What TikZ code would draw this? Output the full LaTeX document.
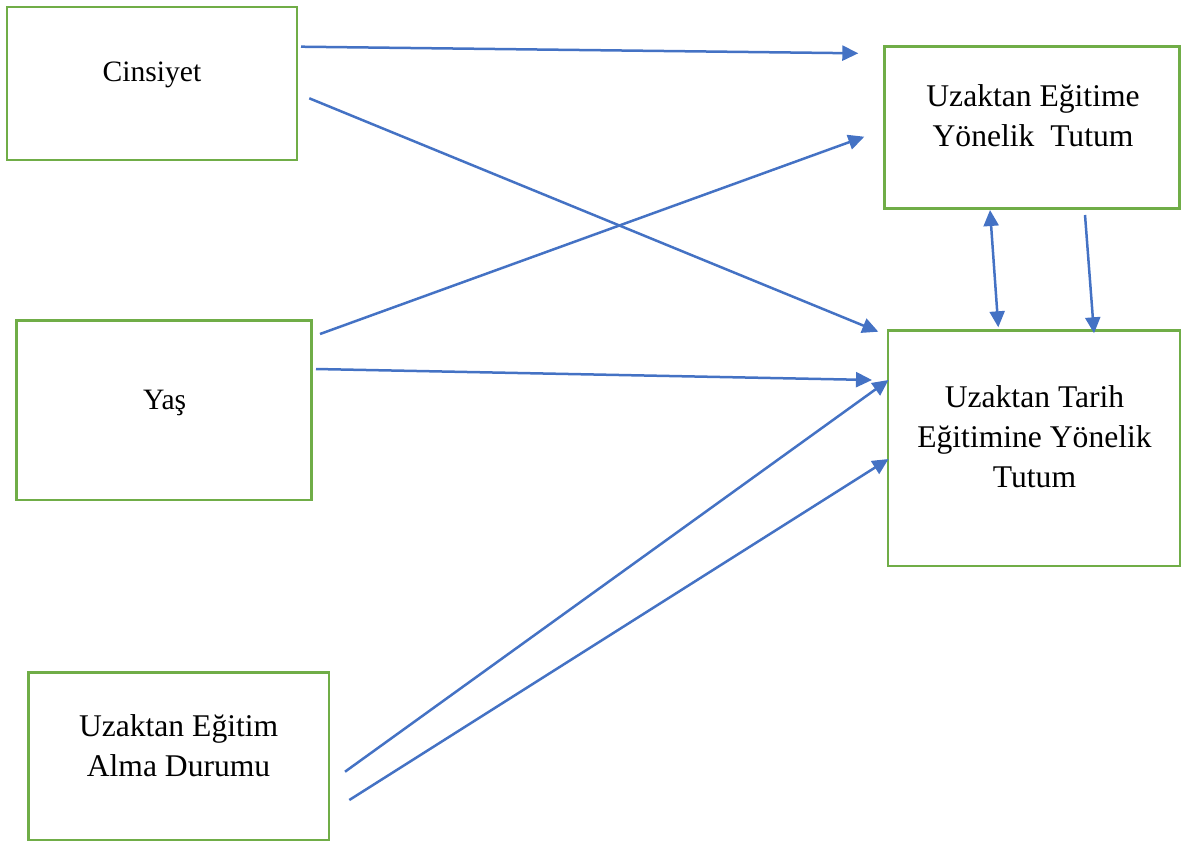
\documentclass[tikz,border=0pt]{standalone}
\usepackage{fontspec}
\setmainfont{Liberation Serif}
\usetikzlibrary{arrows.meta}
\definecolor{boxgreen}{HTML}{70AD47}
\definecolor{arrowblue}{HTML}{4472C4}
\begin{document}
\begin{tikzpicture}[x=0.5pt,y=-0.5pt,
  box/.style={draw=boxgreen,line width=1.35pt,fill=none,inner sep=0pt,outer sep=0pt},
  big/.style={align=center,inner sep=0pt,font=\fontsize{15.8}{19.9}\selectfont},
  small/.style={align=center,inner sep=0pt,font=\fontsize{14.8}{19}\selectfont},
  arr/.style={draw=arrowblue,line width=1.25pt,-{Triangle[length=8pt,width=7.5pt]}},
  darr/.style={draw=arrowblue,line width=1.25pt,{Triangle[length=8pt,width=7.5pt]}-{Triangle[length=8pt,width=7.5pt]}}]
\useasboundingbox (0,0) rectangle (1181,841);
% boxes
\node[box,minimum width=145pt,minimum height=76.5pt] (cb) at (152,83.5) {};
\node[box,minimum width=147.5pt,minimum height=89.75pt] (yb) at (164,410.3) {};
\node[box,minimum width=150.25pt,minimum height=83.75pt] (ub) at (178.7,756.2) {};
\node[box,minimum width=147.5pt,minimum height=80.8pt] (ab) at (1032.3,127.5) {};
\node[box,minimum width=146pt,minimum height=117.65pt] (tb) at (1034,448.3) {};
% texts
\node[small] (ct) at (152,74.9) {Cinsiyet};
\node[small] (yt) at (164.7,403.3) {Yaş};
\node[big] (ut) at (178.6,745.3) {Uzaktan Eğitim\\Alma Durumu};
\node[big] (at) at (1033,115.5) {Uzaktan Eğitime\\Yönelik~~Tutum};
\node[big] (tt) at (1034.5,436.6) {Uzaktan Tarih\\Eğitimine Yönelik\\Tutum};
% arrow end points
\coordinate (s1) at (301,46.7);   \coordinate (e1) at (858.3,53.3);
\coordinate (s2) at (309.3,98.3); \coordinate (e2) at (878.3,331.7);
\coordinate (s3) at (320,334);    \coordinate (e3) at (864.3,136.7);
\coordinate (s4) at (316,369);    \coordinate (e4) at (872,380);
\coordinate (s5) at (345,771.7);  \coordinate (e5) at (888.5,380);
\coordinate (s6) at (349.3,800);  \coordinate (e6) at (888.5,459);
\coordinate (s7) at (990,210);    \coordinate (e7) at (998.3,327.3);
\coordinate (s8) at (1085,215);   \coordinate (e8) at (1094,333.3);
% connectors
\draw[arr] (s1) -- (e1);
\draw[arr] (s2) -- (e2);
\draw[arr] (s3) -- (e3);
\draw[arr] (s4) -- (e4);
\draw[arr] (s5) -- (e5);
\draw[arr] (s6) -- (e6);
\draw[darr] (s7) -- (e7);
\draw[arr] (s8) -- (e8);
\end{tikzpicture}
\end{document}
